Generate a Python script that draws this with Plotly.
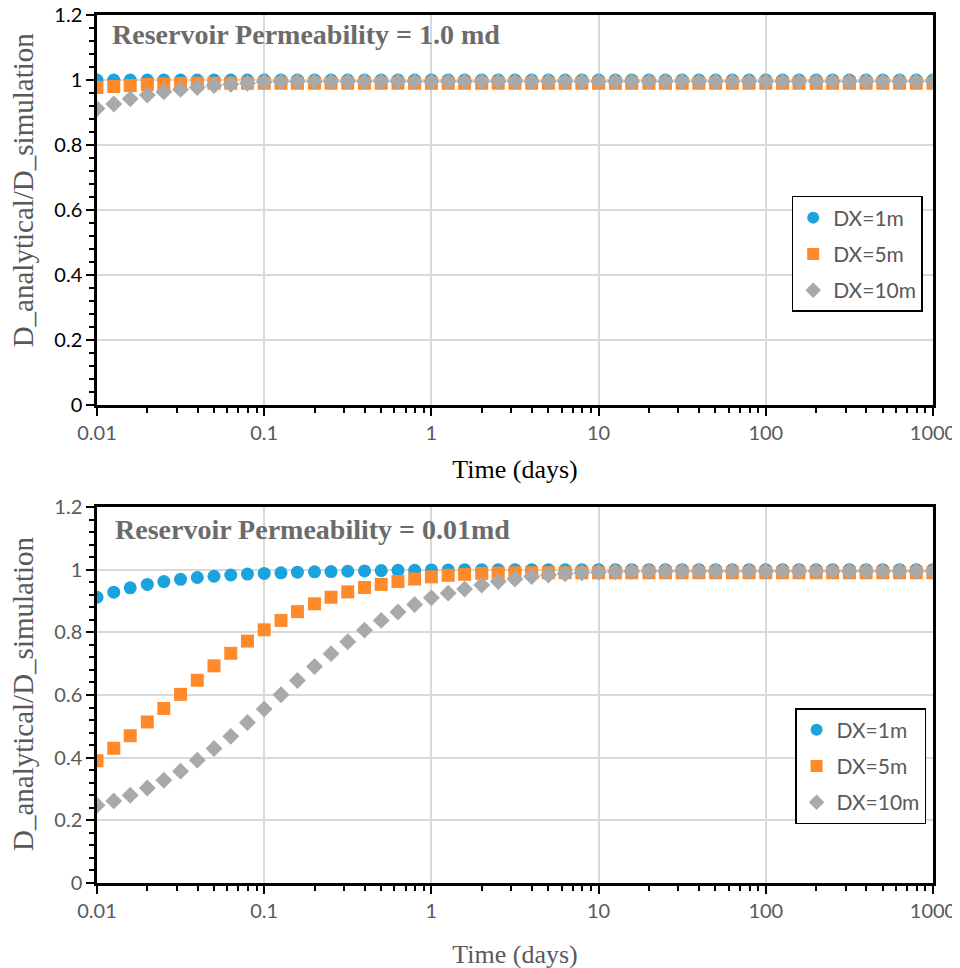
import plotly.graph_objects as go

# ---------------- data ----------------
time_days = [0.01, 0.0126, 0.0158, 0.02, 0.0251, 0.0316, 0.0398, 0.0501, 0.0631, 0.0794,
             0.1, 0.126, 0.158, 0.2, 0.251, 0.316, 0.398, 0.501, 0.631, 0.794,
             1, 1.26, 1.58, 2, 2.51, 3.16, 3.98, 5.01, 6.31, 7.94,
             10, 12.6, 15.8, 20, 25.1, 31.6, 39.8, 50.1, 63.1, 79.4,
             100, 126, 158, 200, 251, 316, 398, 501, 631, 794, 1000]

series_names = ["DX=1m", "DX=5m", "DX=10m"]

top_dx1 = [1.0] * 51
top_dx5 = [0.977, 0.980, 0.983, 0.986, 0.988, 0.989] + [0.99] * 45
top_dx10 = [0.912, 0.926, 0.942, 0.954, 0.964, 0.971, 0.977, 0.983, 0.987, 0.990,
            0.994] + [0.995] * 40

bot_dx1 = [0.912, 0.928, 0.942, 0.953, 0.962, 0.969, 0.975, 0.979, 0.983, 0.986,
           0.988, 0.990, 0.992, 0.993, 0.994, 0.995, 0.996, 0.997, 0.998, 0.998,
           0.999, 0.999] + [1.0] * 29
bot_dx5 = [0.39, 0.43, 0.47, 0.514, 0.557, 0.602, 0.647, 0.693, 0.733, 0.772,
           0.808, 0.838, 0.866, 0.891, 0.912, 0.929, 0.943, 0.953, 0.962, 0.970,
           0.977, 0.982, 0.985, 0.988, 0.989] + [0.99] * 26
bot_dx10 = [0.248, 0.262, 0.280, 0.303, 0.328, 0.357, 0.392, 0.429, 0.468, 0.512,
            0.555, 0.601, 0.646, 0.691, 0.732, 0.770, 0.807, 0.838, 0.865, 0.889,
            0.910, 0.925, 0.938, 0.951, 0.962, 0.970, 0.978, 0.983, 0.987, 0.990,
            0.992, 0.993, 0.994] + [0.995] * 18

titles = ["Reservoir Permeability = 1.0 md", "Reservoir Permeability = 0.01md"]
y_title = "D_analytical/D_simulation"
x_title = "Time (days)"
x_tick_vals = [0.01, 0.1, 1, 10, 100, 1000]
x_tick_text = ["0.01", "0.1", "1", "10", "100", "1000"]
y_tick_vals = [0, 0.2, 0.4, 0.6, 0.8, 1, 1.2]
y_tick_text = ["0", "0.2", "0.4", "0.6", "0.8", "1", "1.2"]

# ---------------- styles ----------------
colors = ["#1aa3dd", "#ff8a2b", "#a9a9a9"]
symbols = ["circle", "square", "diamond"]
sizes = [13, 13, 13]
GRAY = "#595959"
TICKFONT = "Lato, 'Open Sans', sans-serif"
SERIF = "'Liberation Serif', 'Times New Roman', serif"

fig = go.Figure()

panels = [
    (top_dx1, top_dx5, top_dx10, "x", "y", "legend"),
    (bot_dx1, bot_dx5, bot_dx10, "x2", "y2", "legend2"),
]
for (s1, s2, s3, xa, ya, lg) in panels:
    for k, ys in enumerate([s1, s2, s3]):
        fig.add_trace(go.Scatter(
            x=time_days, y=ys, mode="markers", name=series_names[k],
            xaxis=xa, yaxis=ya, legend=lg, legendgroup=lg + str(k),
            marker=dict(color=colors[k], symbol=symbols[k], size=sizes[k],
                        line=dict(width=0)),
        ))

def xaxis_cfg(domain_anchor, tick_color, title_color, standoff):
    return dict(
        type="log", range=[-2, 3], anchor=domain_anchor, automargin=False,
        tickvals=x_tick_vals, ticktext=x_tick_text, ticklabeloverflow="allow",
        tickfont=dict(family=TICKFONT, size=20, color=tick_color),
        ticks="outside", ticklen=8, tickwidth=2, tickcolor="black",
        showline=True, linewidth=2.5, linecolor="black", mirror=True,
        showgrid=True, gridcolor="#d9d9d9", gridwidth=1.5,
        minor=dict(ticks="outside", ticklen=5, tickwidth=2, tickcolor="black",
                   dtick="D1", showgrid=False),
        title=dict(text=x_title, font=dict(family=SERIF, size=26, color=title_color),
                   standoff=standoff),
        zeroline=False,
    )

def yaxis_cfg(domain, domain_anchor, tick_color):
    return dict(
        domain=domain, anchor=domain_anchor, range=[0, 1.2], automargin=False,
        tickvals=y_tick_vals, ticktext=y_tick_text, ticklabeloverflow="allow",
        tickfont=dict(family=TICKFONT, size=20, color=tick_color),
        ticks="outside", ticklen=8, tickwidth=2, tickcolor="black",
        showline=True, linewidth=2.5, linecolor="black", mirror=True,
        showgrid=True, gridcolor="#d9d9d9", gridwidth=1.5,
        minor=dict(ticks="outside", ticklen=5, tickwidth=2, tickcolor="black",
                   dtick=0.04, showgrid=False),
        zeroline=False,
    )

legend_common = dict(
    font=dict(family=TICKFONT, size=21, color=GRAY),
    bgcolor="white", bordercolor="black", borderwidth=1.5,
    xanchor="left", yanchor="top", tracegroupgap=6, itemsizing="constant",
)

# page body has an 8px default margin: compensate so the plot areas land where the reference has them
fig.update_layout(
    width=960, height=968,
    margin=dict(l=89, r=35, t=7, b=93),
    paper_bgcolor="white", plot_bgcolor="white",
    xaxis=xaxis_cfg("y", GRAY, "black", 18),
    yaxis=yaxis_cfg([0.5507, 1.0], "x", "black"),
    xaxis2=xaxis_cfg("y2", GRAY, GRAY, 25),
    yaxis2=yaxis_cfg([0.0, 0.4332], "x2", GRAY),
    legend=dict(x=0.831, y=0.7915, **legend_common),
    legend2=dict(x=0.835, y=0.2016, **legend_common),
    annotations=[
        dict(text="<b>" + titles[0] + "</b>", xref="x domain", yref="y domain",
             x=0.015, y=0.949, xanchor="left", yanchor="middle", showarrow=False,
             font=dict(family=SERIF, size=28, color="#6b6b6b")),
        dict(text="<b>" + titles[1] + "</b>", xref="x2 domain", yref="y2 domain",
             x=0.019, y=0.939, xanchor="left", yanchor="middle", showarrow=False,
             font=dict(family=SERIF, size=28, color="#6b6b6b")),
        # y-axis titles placed as rotated annotations
        dict(text=y_title, xref="paper", yref="paper", x=-0.0885, y=0.798,
             xanchor="center", yanchor="middle", textangle=-90, showarrow=False,
             font=dict(family=SERIF, size=29, color=GRAY)),
        dict(text=y_title, xref="paper", yref="paper", x=-0.0885, y=0.2177,
             xanchor="center", yanchor="middle", textangle=-90, showarrow=False,
             font=dict(family=SERIF, size=29, color=GRAY)),
    ],
)

fig.write_html("out.html")
